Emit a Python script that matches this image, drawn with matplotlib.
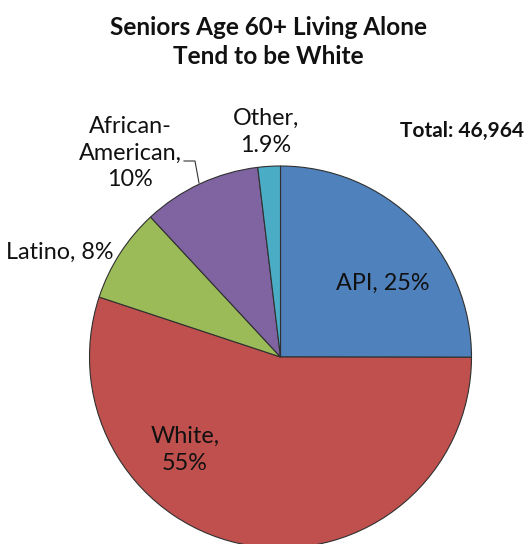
import matplotlib
matplotlib.use("Agg")
import matplotlib.pyplot as plt

categories = ["API", "White", "Latino", "African-American", "Other"]
values = [25, 55, 8, 10, 1.9]
label_texts = ["API, 25%", "White,\n55%", "Latino, 8%", "African-\nAmerican,\n10%", "Other,\n1.9%"]
colors = ["#4F81BD", "#C0504D", "#9BBB59", "#8064A2", "#4BACC6"]
title = "Seniors Age 60+ Living Alone\nTend to be White"
total_text = "Total: 46,964"

W, H = 530, 544
fig = plt.figure(figsize=(W / 100, H / 100), dpi=100)
ax = fig.add_axes([0, 0, 1, 1])
plt.rcParams['font.family'] = ['Lato', 'DejaVu Sans']

def py(y):
    return H - y

cx, cy, r = 280.5, 357, 191
ax.pie(values, colors=colors, startangle=90, counterclock=False,
       center=(cx, py(cy)), radius=r, frame=False,
       wedgeprops=dict(edgecolor="#303030", linewidth=0.8))
ax.set_xlim(0, W)
ax.set_ylim(0, H)
ax.set_aspect("equal")
ax.axis("off")

fs = 16.8
label_pos = [(383, 283), (185, 450), (60, 252), (130, 153), (266, 132)]
for (x, y), t in zip(label_pos, label_texts):
    ax.text(x, py(y), t, ha="center", va="center", fontsize=fs,
            color="#111111", linespacing=1.33)

ax.plot([184, 195, 199], [py(161), py(161), py(183)], color="#333333", lw=0.8)

ax.text(268, py(42), title, ha="center", va="center", fontsize=17.6,
        fontweight="bold", color="#111111", linespacing=1.32)
ax.text(462, py(131), total_text, ha="center", va="center", fontsize=15,
        fontweight="bold", color="#111111")

fig.savefig("out.png", dpi=100)
